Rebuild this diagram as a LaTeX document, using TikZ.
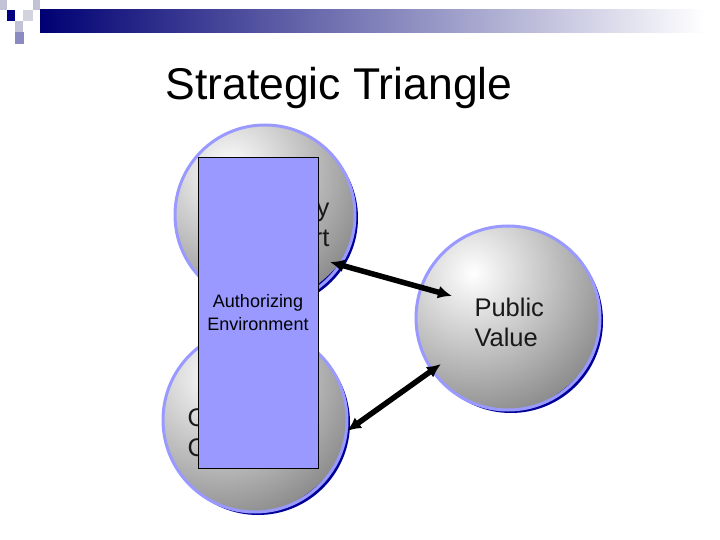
\documentclass[tikz,border=0pt]{standalone}
\usepackage{fontspec}
\setmainfont{Liberation Sans}
\usetikzlibrary{arrows.meta}
\begin{document}
\begin{tikzpicture}[x=1pt,y=-1pt,
  ball/.style={circle,minimum size=#1,inner sep=0pt},
  arr/.style={line width=5.5pt,{Latex[length=14pt,width=13pt]}-{Latex[length=14pt,width=13pt]}},
  lbl/.style={font=\fontsize{25.5}{30}\selectfont,align=left,text=black!90}]
\useasboundingbox (0,0) rectangle (720,540);
% header
\shade[left color=blue!45!black,right color=white] (40,10) rectangle (705,33);
\fill[blue!20!gray!40] (0,0) rectangle (7,10);
\fill[blue!20!gray!40] (33,0) rectangle (40,10);
\fill[blue!50!black] (7,10) rectangle (15,21);
\fill[blue!15!gray!30] (23,10) rectangle (33,21);
\fill[blue!20!gray!40] (15,21) rectangle (23,32);
\fill[blue!30!gray!70] (15,32) rectangle (24,44);
\node[font=\fontsize{44.5}{48}\selectfont] (title) at (339,88) {Strategic Triangle};
% circles
\foreach \n/\x/\y/\r in {top/265/215/90,bot/255/420/92,pv/508/318/92}{
  \fill[blue!60!black] (\x+3,\y+3) circle (\r);
  \begin{scope}
    \clip (\x,\y) circle (\r);
    \shade[inner color=white,outer color=black!45] (\x-35,\y-45) circle (1.6*\r);
  \end{scope}
  \draw[line width=3pt,blue!40!white] (\x,\y) circle (\r);
  \node[ball=2*\r] (\n) at (\x,\y) {};
}
\node[lbl,align=right,anchor=east] (toptext) at (333,225) {Legitimacy\\Support};
\node[lbl,anchor=west] (bottext) at (184,435) {Operational\\Capacity};
\node[lbl,anchor=west] (pvtext) at (471,322) {Public\\Value};
\coordinate (a1) at (330,262);
\coordinate (a2) at (452,296);
\coordinate (b1) at (441,364);
\coordinate (b2) at (347,431);
\draw[arr] (a1) -- (a2);
\draw[arr] (b1) -- (b2);
\node[draw=black,fill=blue!40!white,minimum width=120,minimum height=311,inner sep=0pt,anchor=north west] (auth) at (198,157) {};
\node[font=\fontsize{18}{23}\selectfont,align=center] (authtext) at (258,313) {Authorizing\\Environment};
\end{tikzpicture}
\end{document}
